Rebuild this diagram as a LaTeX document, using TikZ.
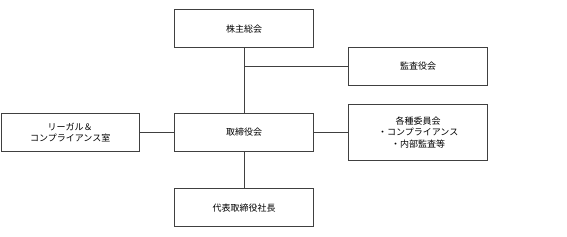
\documentclass[tikz,border=0pt]{standalone}
\usepackage{fontspec}
\setmainfont{Noto Sans CJK JP}
\begin{document}
\begin{tikzpicture}[x=1pt,y=-1pt,
  orgbox/.style={draw=black!75,line width=0.9pt,fill=white,minimum width=138.6pt,minimum height=38pt,align=center,font=\fontsize{9}{11.5}\selectfont,inner sep=2pt},
  link/.style={draw=black!75,line width=0.9pt}]
\useasboundingbox (0,0) rectangle (567,236);
\node[orgbox] (kabu) at (244,28.7) {株主総会};
\node[orgbox,minimum width=139pt] (kansa) at (418.2,66.3) {監査役会};
\node[orgbox] (tori) at (244,132.5) {取締役会};
\node[orgbox,minimum width=138.3pt] (legal) at (70.2,132.5) {リーガル＆\\コンプライアンス室};
\node[orgbox,minimum width=139pt,minimum height=56.3pt] (iin) at (418.2,132.5) {各種委員会\\・コンプライアンス\\・内部監査等};
\node[orgbox] (ceo) at (244,207.7) {代表取締役社長};
\coordinate (j) at (kabu.south |- kansa.west);
\draw[link] (kabu.south) -- (tori.north);
\draw[link] (j) -- (kansa.west);
\draw[link] (legal.east) -- (tori.west);
\draw[link] (tori.east) -- (iin.west);
\draw[link] (tori.south) -- (ceo.north);
\end{tikzpicture}
\end{document}
